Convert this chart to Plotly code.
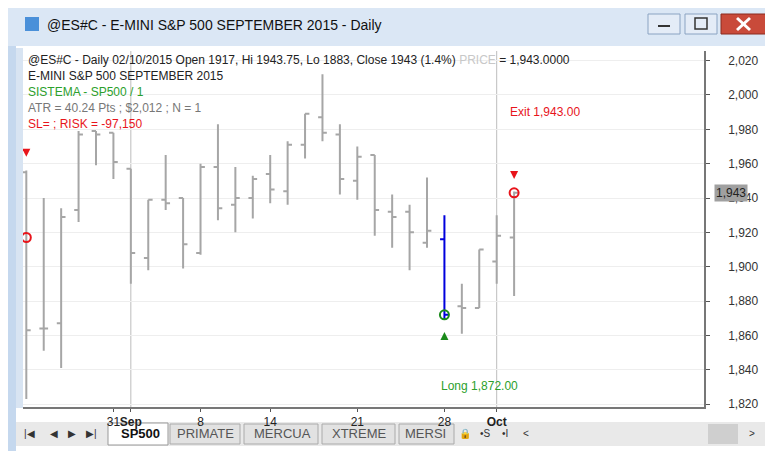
import plotly.graph_objects as go

W, H = 773, 451
L, R, T, B = 15, 77, 43, 52
PW, PH = W - L - R, H - T - B

dates = ["Aug 24","Aug 25","Aug 26","Aug 27","Aug 28","Aug 31","Sep 1","Sep 2","Sep 3","Sep 4",
         "Sep 8","Sep 9","Sep 10","Sep 11","Sep 14","Sep 15","Sep 16","Sep 17","Sep 18","Sep 21",
         "Sep 22","Sep 23","Sep 24","Sep 25","Sep 28","Sep 29","Sep 30","Oct 1","Oct 2"]
opens  = [1955,1864,1867,1933,1979,1978,1957,1905,1939,1940,1908,1958,1936,1940,1954,1944,1971,1987,1977,1950,1965,1932,1932,1914,1916,1877,1876,1903,1917]
highs  = [1956,1940,1934,1979,1979,1978,1957,1939,1965,1940,1960,1983,1958,1953,1965,1973,1989,2012,1983,1970,1965,1942,1936,1952,1930,1890,1910,1930,1943.75]
lows   = [1823,1851,1841,1926,1959,1951,1890,1898,1933,1899,1907,1927,1920,1928,1937,1936,1963,1973,1942,1939,1918,1911,1898,1911,1869,1861,1876,1890,1883]
closes = [1863,1864,1929,1977,1977,1961,1908,1939,1937,1913,1958,1934,1940,1951,1945,1971,1989,1978,1951,1964,1933,1929,1920,1921,1872,1876,1910,1918,1943]
tick_idx = [5, 6, 10, 14, 19, 24, 27]
tick_txt = ["31", "<b>Sep</b>", "8", "14", "21", "28", "<b>Oct</b>"]
y_ticks = [1820,1840,1860,1880,1900,1920,1940,1960,1980,2000,2020]

idx = list(range(len(dates)))
gray = "#a6a6a6"
blue_i = 24
others = [i for i in idx if i != blue_i]

def px(x): return (x - L) / PW
def py(y): return (H - B - y) / PH

fig = go.Figure()
fig.add_trace(go.Ohlc(x=others, open=[opens[i] for i in others], high=[highs[i] for i in others],
                      low=[lows[i] for i in others], close=[closes[i] for i in others],
                      increasing_line_color=gray, decreasing_line_color=gray, line_width=2,
                      tickwidth=0.25, hoverinfo="skip", showlegend=False))
fig.add_trace(go.Ohlc(x=[blue_i], open=[opens[blue_i]], high=[highs[blue_i]], low=[lows[blue_i]],
                      close=[closes[blue_i]], increasing_line_color="#0000dd", decreasing_line_color="#0000dd",
                      line_width=2, tickwidth=0.25, showlegend=False))
fig.add_trace(go.Scatter(x=[0, 28], y=[1917, 1943], mode="markers", showlegend=False,
                         marker=dict(symbol="circle-open", size=9, color="#e8141b", line_width=2)))
fig.add_trace(go.Scatter(x=[24], y=[1872], mode="markers", showlegend=False,
                         marker=dict(symbol="circle-open", size=9, color="#1a8a1a", line_width=2)))
fig.add_trace(go.Scatter(x=[0, 28], y=[1964, 1951], mode="markers", showlegend=False,
                         marker=dict(symbol="arrow-down", size=8, color="#e8141b")))
fig.add_trace(go.Scatter(x=[24], y=[1862], mode="markers", showlegend=False,
                         marker=dict(symbol="arrow-up", size=8, color="#1a8a1a")))

F = "Liberation Sans"
ann = []
def txt(x, y, s, color="#222", size=12, xa="left", **kw):
    ann.append(dict(x=px(x), y=py(y), xref="paper", yref="paper", text=s, showarrow=False,
                    xanchor=xa, yanchor="middle", font=dict(family=F, size=size, color=color), **kw))

txt(18, 52, "@ES#C - Daily 02/10/2015 Open 1917, Hi 1943.75, Lo 1883, Close 1943 (1.4%) "
    "<span style='color:#c8c8c8'>PRICE</span> = 1,943.0000")
txt(18, 68, "E-MINI S&P 500 SEPTEMBER 2015")
txt(18, 84, "SISTEMA - SP500 / 1", color="#2ca02c")
txt(18, 100, "ATR = 40.24 Pts ; $2,012 ; N = 1", color="#777")
txt(18, 116, "SL= ; RISK = -97,150", color="#e8141b")
txt(500, 104, "Exit 1,943.00", color="#e8141b")
txt(431, 378, "Long 1,872.00", color="#2ca02c")
txt(37, 17, "@ES#C - E-MINI S&P 500 SEPTEMBER 2015 - Daily", color="#111", size=14)
ann.append(dict(x=px(706), y=1943, xref="paper", yref="y", text="1,943", showarrow=False,
                xanchor="left", bgcolor="#a0a0a0", font=dict(family=F, size=12, color="#222")))
tabs = [("SP500", 110, 155, True), ("PRIMATE", 168, 228, False), ("MERCUA", 243, 306, False),
        ("XTREME", 320, 383, False), ("MERSI", 395, 440, False)]
for name, a, b, bold in tabs:
    txt((a + b) / 2, 426, f"<b>{name}</b>" if bold else name, color="#111" if bold else "#555",
        size=13, xa="center")
for x, s in [(21, "|◀"), (46, "◀"), (64, "▶"), (83, "▶|"), (457, "🔒"), (477, "•S"), (497, "•I"), (518, "<"), (744, ">")]:
    txt(x, 426, s, color="#333", size=10, xa="center")
fig.update_layout(annotations=ann)

shapes = []
def rect(x0, y0, x1, y1, fill, line=None, lw=0, layer="below"):
    shapes.append(dict(type="rect", xref="paper", yref="paper", x0=px(x0), x1=px(x1), y0=py(y1), y1=py(y0),
                       fillcolor=fill, line=dict(color=line or fill, width=lw), layer=layer))
rect(0, 0, 773, 451, "#c5d8ee")
rect(0, 0, 773, 38, "#dbe7f5")
rect(8, 38, 765, 443, "white")
rect(8, 414, 765, 438, "#e9e9e9")
rect(100, 415, 160, 437, "white", "#999", 1)
for a, b in [(162, 232), (236, 310), (314, 387), (391, 446)]:
    rect(a, 416, b, 436, "#e2e2e2", "#aaa", 1)
rect(700, 416, 730, 436, "#cfcfcf")
rect(8, 40, 15, 400, "#d8e4f2", layer="above")
rect(640, 6, 672, 26, "#e4ecf7", "#8aa3c2", 1, "above")
rect(677, 6, 709, 26, "#e4ecf7", "#8aa3c2", 1, "above")
rect(713, 6, 758, 26, "#c94a3a", "#8a2a1f", 1, "above")
rect(650, 17, 662, 19, "#333", layer="above")
rect(687, 10, 699, 21, "rgba(0,0,0,0)", "#333", 1.5, "above")
shapes.append(dict(type="line", xref="paper", yref="paper", x0=px(729), x1=px(742), y0=py(10), y1=py(22), line=dict(color="white", width=3), layer="above"))
shapes.append(dict(type="line", xref="paper", yref="paper", x0=px(729), x1=px(742), y0=py(22), y1=py(10), line=dict(color="white", width=3), layer="above"))
rect(17, 9, 31, 23, "#4a90d9", layer="above")
for i in [6, 27]:
    shapes.append(dict(type="line", xref="x", yref="paper", x0=i, x1=i, y0=0, y1=1,
                       line=dict(color="#bdbdbd", width=1), layer="below"))
fig.update_layout(shapes=shapes)

fig.update_layout(
    width=W, height=H, margin=dict(l=L, r=R, t=T, b=B),
    paper_bgcolor="white", plot_bgcolor="white",
    xaxis=dict(range=[-0.19, 38.9], tickvals=tick_idx, ticktext=tick_txt, showgrid=False,
               rangeslider=dict(visible=False), ticks="outside", ticklen=3, tickcolor="#555",
               tickangle=0, tickfont=dict(family=F, size=12, color="#222"), showline=True,
               linecolor="#777", linewidth=2, zeroline=False),
    yaxis=dict(side="right", range=[1818.3, 2025.6], tickvals=y_ticks, tickformat=",",
               showgrid=True, gridcolor="#eeeeee", ticks="outside", ticklen=4, tickcolor="#555",
               tickfont=dict(family=F, size=12, color="#333"), showline=True, linecolor="#777",
               linewidth=1.5, zeroline=False, ticklabelstandoff=16),
)
fig.write_html("out.html")
